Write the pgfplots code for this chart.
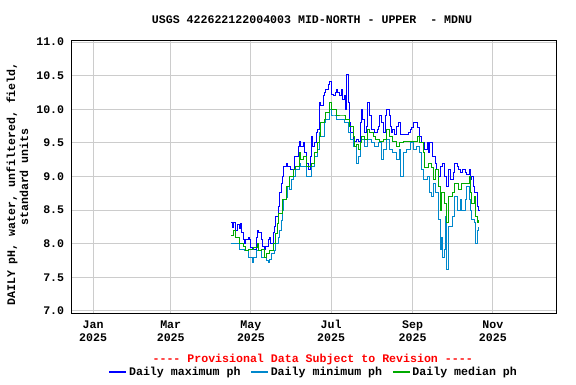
\documentclass[border=0pt]{standalone}
\usepackage{fontspec}
\setmonofont{Liberation Mono}
\usepackage{pgfplots}
\pgfplotsset{compat=1.18}
\usepackage{pgfplotstable}
\definecolor{cmax}{RGB}{0,0,255}
\definecolor{cmin}{RGB}{0,136,204}
\definecolor{cmed}{RGB}{0,170,0}
\definecolor{gridc}{RGB}{204,204,204}
\newcommand{\ff}{\ttfamily\bfseries\fontsize{11.6}{13}\selectfont}

\pgfplotstableread{
day val
105 8.31
106 8.24
107 8.31
108 8.20
110 8.28
111 8.22
112 8.30
113 8.16
114 8.06
115 8.00
116 8.06
118 8.10
119 8.06
120 7.95
121 7.91
122 7.91
124 8.10
125 8.20
126 8.16
128 8.06
129 7.96
130 7.91
131 7.96
133 8.06
134 8.10
135 8.00
137 8.16
138 8.25
139 8.40
141 8.55
142 8.76
143 8.90
144 9.00
145 9.15
147 9.20
148 9.15
150 9.10
152 9.10
153 9.30
156 9.45
157 9.52
158 9.45
160 9.50
161 9.35
162 9.20
164 9.10
165 9.30
166 9.60
167 9.45
168 9.50
170 9.66
171 9.70
172 10.10
173 10.05
175 10.20
176 10.25
177 10.30
179 10.37
180 10.42
181 10.22
183 10.20
184 10.25
185 10.30
186 10.25
187 10.20
189 10.30
190 10.15
191 10.20
192 10.00
193 10.52
194 10.10
195 9.80
196 9.66
198 9.52
200 9.55
202 9.52
203 9.80
204 10.00
205 9.85
206 9.66
208 9.75
209 10.10
210 9.90
212 9.70
214 9.66
216 9.70
217 9.75
218 9.90
219 9.80
221 9.66
222 9.90
223 10.00
225 9.90
226 9.75
227 9.66
228 9.70
229 9.63
231 9.75
232 9.80
233 9.80
234 9.63
236 9.63
238 9.63
240 9.66
241 9.70
242 9.73
244 9.80
246 9.80
247 9.73
248 9.60
250 9.50
252 9.40
254 9.50
255 9.35
256 9.50
258 9.30
260 9.20
261 9.10
263 9.00
264 9.15
266 9.20
267 9.00
269 8.85
270 9.10
272 8.96
274 9.06
275 9.20
277 9.15
278 9.10
279 9.06
281 9.10
283 9.06
284 9.03
286 9.10
287 8.96
288 9.00
289 8.85
290 8.76
292 8.55
293 8.50
294 8.50
}\maxdata

\pgfplotstableread{
day val
105 8.13
107 8.20
108 8.09
111 8.00
114 7.96
116 7.90
118 7.91
122 7.95
125 8.00
126 7.90
128 7.91
130 7.80
132 7.85
134 7.90
137 8.00
139 8.15
140 8.30
141 8.45
144 8.66
147 8.85
149 9.00
152 9.10
154 9.15
157 9.35
158 9.25
160 9.30
162 9.15
164 9.15
166 9.20
168 9.35
171 9.50
172 9.60
173 9.80
176 9.85
177 9.95
180 10.10
181 10.00
183 10.00
185 9.90
190 9.90
192 9.85
195 9.75
198 9.60
199 9.45
200 9.47
202 9.40
203 9.50
204 9.60
206 9.55
209 9.70
210 9.66
213 9.60
215 9.55
218 9.52
221 9.55
223 9.70
225 9.60
228 9.52
231 9.45
233 9.50
236 9.52
238 9.52
240 9.52
244 9.52
247 9.60
248 9.50
251 9.35
252 9.13
255 9.20
257 9.13
259 8.96
260 9.10
263 8.85
264 8.50
265 8.76
267 8.60
269 8.31
270 8.70
273 8.76
275 8.90
278 8.80
280 8.90
283 8.90
286 9.00
287 8.76
288 8.60
290 8.70
291 8.40
292 8.31
293 8.35
}\meddata

\pgfplotstableread{
day val
105 8.00
108 8.00
111 7.91
115 7.90
118 7.80
120 7.80
121 7.72
122 7.80
124 7.90
127 7.90
128 7.80
130 7.80
132 7.75
133 7.72
134 7.76
136 7.86
138 7.90
139 8.00
141 8.10
142 8.20
143 8.35
144 8.50
145 8.66
147 8.69
148 8.85
149 8.80
151 8.96
152 9.00
154 9.10
157 9.20
158 9.15
160 9.15
162 9.00
164 9.00
166 9.15
168 9.30
171 9.40
172 9.66
173 9.60
176 9.80
177 9.85
180 10.00
181 9.90
183 9.90
185 9.85
189 9.85
191 9.80
194 9.66
196 9.55
198 9.45
200 9.20
202 9.30
203 9.50
204 9.55
206 9.45
209 9.55
212 9.50
214 9.45
217 9.50
219 9.25
221 9.40
223 9.55
225 9.40
228 9.35
231 9.25
233 9.40
234 9.00
236 9.35
238 9.40
241 9.50
244 9.40
246 9.45
248 9.35
250 9.10
251 8.96
254 9.00
256 8.76
257 8.70
259 8.90
260 8.76
263 8.36
264 7.91
265 8.10
266 7.80
267 7.91
268 8.40
269 7.61
270 8.25
273 8.40
275 8.70
277 8.50
279 8.66
280 8.50
283 8.66
284 8.85
286 8.66
287 8.50
288 8.36
290 8.31
291 8.00
292 8.20
293 8.25
}\mindata

\begin{document}
\begin{tikzpicture}
\path[use as bounding box] (-71.7pt,-71pt) rectangle (504.3pt,313pt);
\begin{axis}[
  scale only axis, width=484.3pt, height=273pt,
  xmin=-16.3, xmax=352, ymin=6.97, ymax=11.03,
  xtick={0,59,120,181,243,304},
  xticklabels={Jan\\2025,Mar\\2025,May\\2025,Jul\\2025,Sep\\2025,Nov\\2025},
  xticklabel style={align=center, font=\ff, yshift=-4pt},
  ytick={7,7.5,8,8.5,9,9.5,10,10.5,11},
  yticklabel style={font=\ff, xshift=-4pt},
  y tick label style={/pgf/number format/.cd, fixed, fixed zerofill, precision=1},
  /pgf/number format/assume math mode=true,
  major tick length=0pt,
  grid=major,
  major grid style={gridc, line width=1pt},
  axis line style={line width=1pt},
  legend style={at={(0.5,-0.216)}, anchor=center, draw=none, fill=none,
    legend columns=3, font=\ff,
    /tikz/every even column/.append style={column sep=8pt}},
  legend cell align=left,
]
\addplot[cmax, line width=1pt, const plot, forget plot] table[x=day, y=val] {\maxdata};
\addplot[cmin, line width=1pt, const plot, forget plot] table[x=day, y=val] {\mindata};
\addplot[cmed, line width=1pt, const plot, forget plot] table[x=day, y=val] {\meddata};
\addlegendimage{cmax, line width=1.3pt, legend image code/.code={\draw[cmax, line width=1.3pt] (0pt,0pt) -- (17pt,0pt);}}
\addlegendentry{Daily maximum ph}
\addlegendimage{cmin, line width=1.3pt, legend image code/.code={\draw[cmin, line width=1.3pt] (0pt,0pt) -- (17pt,0pt);}}
\addlegendentry{Daily minimum ph}
\addlegendimage{cmed, line width=1.3pt, legend image code/.code={\draw[cmed, line width=1.3pt] (0pt,0pt) -- (17pt,0pt);}}
\addlegendentry{Daily median ph}
\end{axis}
\node[font=\ff] at (240.3pt,293pt) {USGS 422622122004003 MID-NORTH - UPPER~~- MDNU};
\node[font=\ff, rotate=90] at (-59.7pt,129pt) {DAILY pH, water, unfiltered, field,};
\node[font=\ff, rotate=90] at (-47.7pt,136pt) {standard units};
\node[font=\ff, text=red] at (241pt,-46pt) {---- Provisional Data Subject to Revision ----};
\end{tikzpicture}
\end{document}
